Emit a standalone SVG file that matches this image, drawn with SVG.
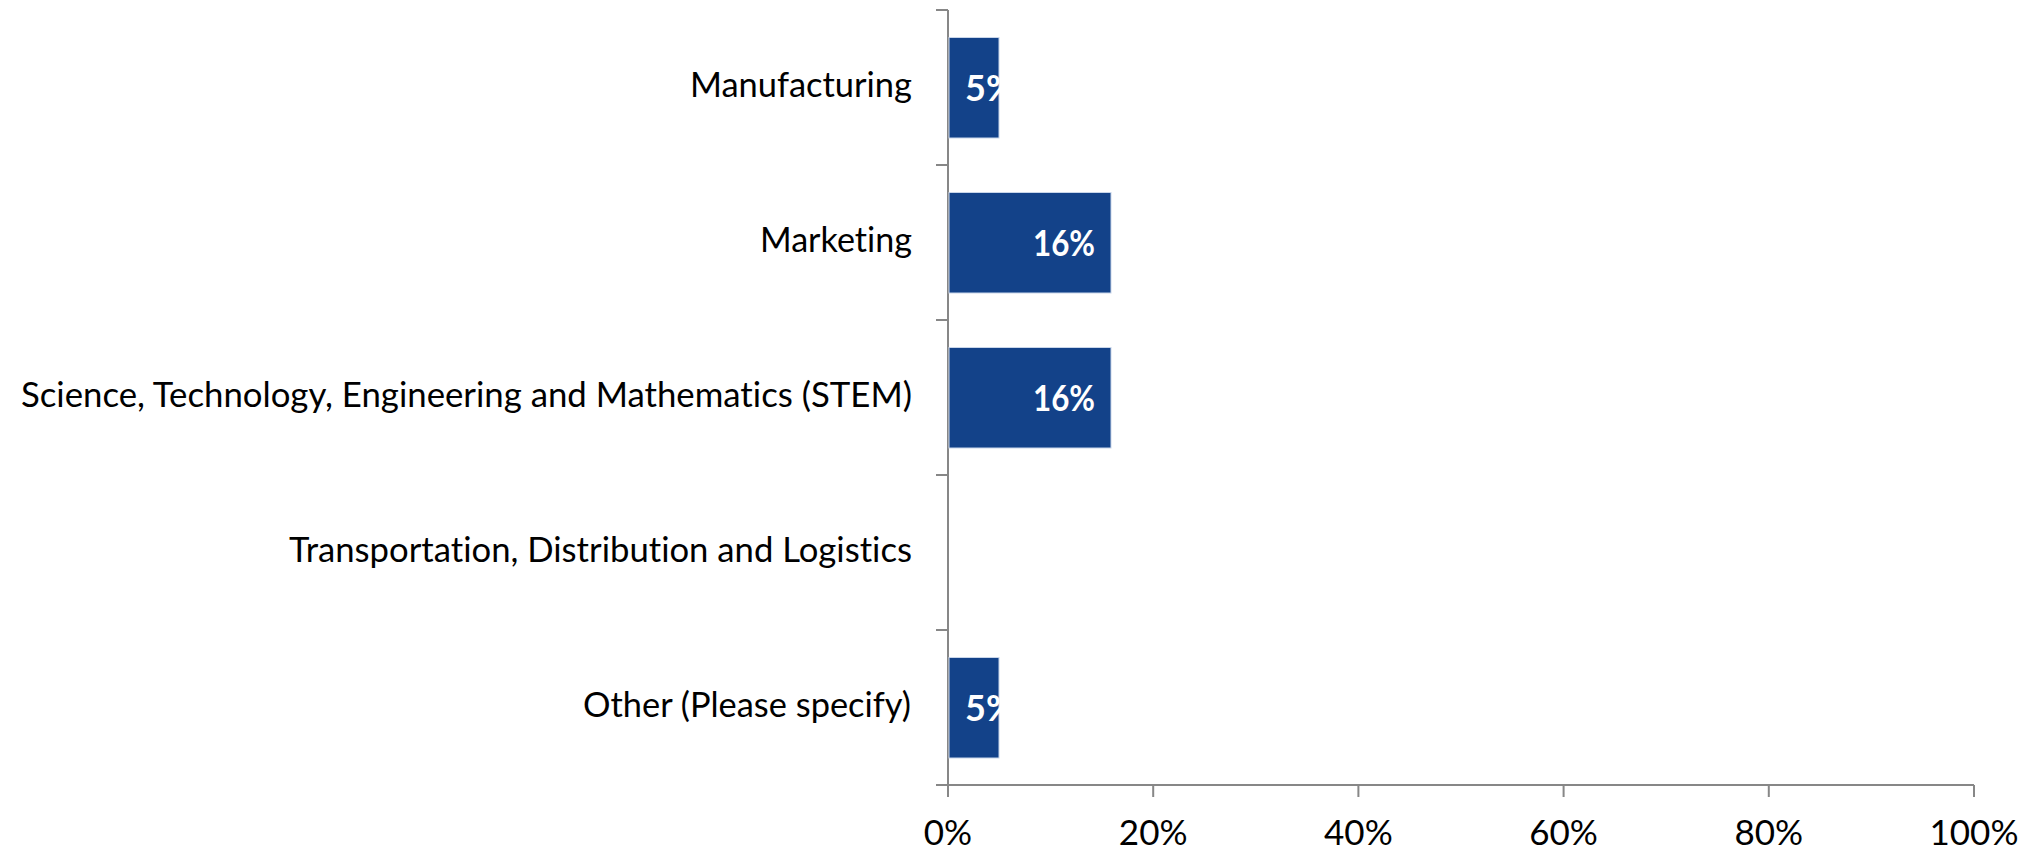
<svg xmlns="http://www.w3.org/2000/svg" width="2033" height="848" viewBox="0 0 2033 848">
<style>
text{font-variant-ligatures:none;font-feature-settings:"liga" 0,"clig" 0}
.cat{font-family:Lato,"Open Sans","Liberation Sans",sans-serif;font-size:35px;fill:#000;text-anchor:end}
.xl{font-family:Lato,"Open Sans","Liberation Sans",sans-serif;font-size:35px;fill:#000;text-anchor:middle}
.val{font-family:Lato,"Open Sans","Liberation Sans",sans-serif;font-size:36px;font-weight:bold;fill:#fff}
.bar{fill:#134289;stroke:#c9d6ea;stroke-width:1}
.ax{stroke:#878787;stroke-width:2;fill:none}
</style>
<rect width="2033" height="848" fill="#fff"/>
<g id="axes">
<path class="ax" d="M948 10V797M936 785H1974"/>
<path class="ax" d="M936 10H948M936 165H948M936 320H948M936 475H948M936 630H948"/>
<path class="ax" d="M1153.2 785V797M1358.4 785V797M1563.6 785V797M1768.8 785V797M1974 785V797"/>
</g>
<g id="x-labels">
<text class="xl" x="948" y="845">0%</text>
<text class="xl" x="1153.2" y="845">20%</text>
<text class="xl" x="1358.4" y="845">40%</text>
<text class="xl" x="1563.6" y="845">60%</text>
<text class="xl" x="1768.8" y="845">80%</text>
<text class="xl" x="1974" y="845">100%</text>
</g>
<g id="manufacturing">
<text class="cat" x="912" y="97" textLength="222" lengthAdjust="spacingAndGlyphs">Manufacturing</text>
<rect class="bar" x="949" y="37.5" width="50" height="100.5"/>
<text class="val" x="965" y="100.5">5%</text>
</g>
<g id="marketing">
<text class="cat" x="912" y="252" textLength="152" lengthAdjust="spacingAndGlyphs">Marketing</text>
<rect class="bar" x="949" y="192.5" width="162" height="100.5"/>
<text class="val" x="1033" y="255.5" textLength="62" lengthAdjust="spacingAndGlyphs">16%</text>
</g>
<g id="stem">
<text class="cat" x="912" y="407" textLength="891" lengthAdjust="spacingAndGlyphs">Science, Technology, Engineering and Mathematics (STEM)</text>
<rect class="bar" x="949" y="347.5" width="162" height="100.5"/>
<text class="val" x="1033" y="410.5" textLength="62" lengthAdjust="spacingAndGlyphs">16%</text>
</g>
<g id="transportation">
<text class="cat" x="912" y="562" textLength="623" lengthAdjust="spacingAndGlyphs">Transportation, Distribution and Logistics</text>
</g>
<g id="other">
<text class="cat" x="911" y="717" textLength="328" lengthAdjust="spacingAndGlyphs">Other (Please specify)</text>
<rect class="bar" x="949" y="657.5" width="50" height="100.5"/>
<text class="val" x="965" y="720.5">5%</text>
</g>
</svg>
